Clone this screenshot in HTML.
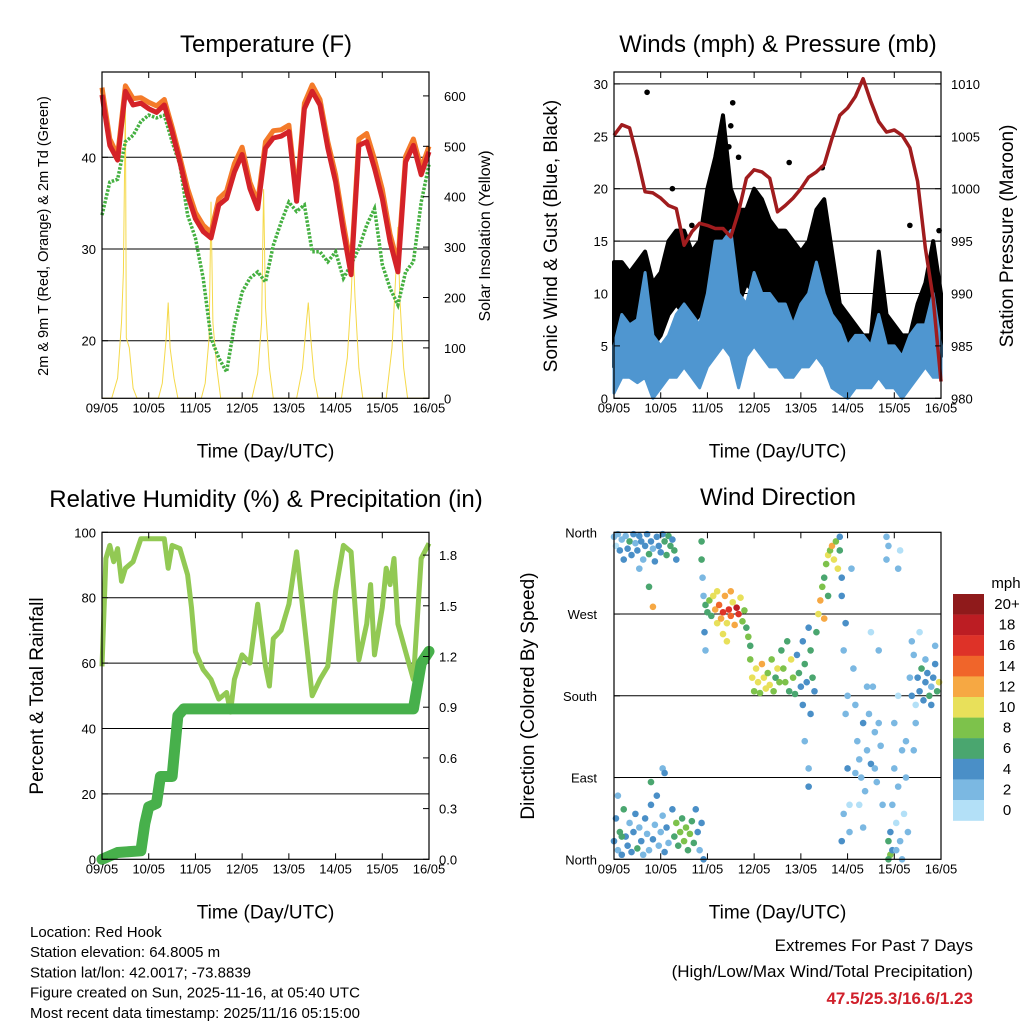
<!DOCTYPE html>
<html><head><meta charset="utf-8"><style>
html,body{margin:0;padding:0;background:#fff;}
svg{display:block;font-family:"Liberation Sans",sans-serif;}
</style></head><body>
<svg id="c" width="1024" height="1024" viewBox="0 0 1024 1024"></svg>
<script>
// ---------- DATA ----------
const hours4 = [0,4,8,12,16,20,24,28,32,36,40,44,48,52,56,60,64,68,72,76,80,84,88,92,96,100,104,108,112,116,120,124,128,132,136,140,144,148,152,156,160,164,168];
const dayLabels = ["09/05","10/05","11/05","12/05","13/05","14/05","15/05","16/05"];
const temp2m = [46.8,41.3,39.7,47.2,45.7,45.9,45.3,44.9,45.7,42.8,39.5,35.9,33.3,31.9,31.2,34.8,35.5,38.4,40.3,36.6,34.4,41,42.1,42.3,42.8,35.2,45.3,47.2,45.7,41,37.3,31.9,27.2,41.3,41.7,38.8,35.5,30.8,27.5,39.5,41.3,38.1,40.6];
const temp9m = [47.6,42,40.2,47.8,46.4,46.5,46,45.6,46.3,43.3,40,36.6,34,32.6,31.8,35.5,36.3,39.3,41.1,37.3,35.1,41.7,42.9,43,43.5,35.8,45.9,47.9,46.3,41.7,38.1,32.8,28,42,42.6,39.8,36.5,31.6,28.4,40.1,42,38.8,41.2];
const dew2m = [33.7,37.3,37.6,41.7,42.4,43.9,44.6,44.3,44.6,41.7,39.2,33.7,31.2,26.8,20.3,18.1,16.6,21.7,25.3,26.8,27.5,26.4,30.4,32.9,35.1,34.1,34.8,29.7,29.7,28.6,29.7,26.8,28.3,30.1,32.6,34.4,28.3,25.7,23.9,27.5,28.6,35.1,39.2];
const solarT = [0,5,8,10,11,12,12.5,14,16,18,29,31,33,34,35,37,39,51,53,55,56,57,59,61,77,80,82,83,84,86,88,100,103,105,106,107,109,111,123,126,128,129,130,132,134,146,149,151,152,153,155,157,168];
const solarV = [0,0,40,150,250,600,120,100,20,0,0,30,120,190,100,40,0,0,30,120,390,150,60,0,0,50,150,415,180,60,0,0,60,150,190,130,40,0,0,80,200,300,200,60,0,0,100,250,340,200,60,0,0];
const pressure = [1005.1,1006.1,1005.8,1002.9,999.7,999.6,999.1,998.4,998.1,994.6,995.9,996.7,996.5,996.2,996.2,995.4,997.8,1001,1001.8,1001.6,1001,997.8,998.4,999.1,1000,1001.1,1001.6,1002.3,1004.8,1007,1007.7,1008.8,1010.5,1008.3,1006.4,1005.4,1005.6,1005.1,1003.9,1000.7,994.3,989.5,981.6];
const windLo = [0.5,2,2,1.5,2,0,1,2,2,3,2,1,3,4,5,4,1,4,5,4,3,3,2,2,3,3,4,3,1,0.5,0,1,1,1,2,1,1,0,1,2,3,2,2];
const windHi = [5,8,7,7.5,12,6,5,6,8,9,8,7,10,15,15,16,10,9,12,10,10,9,9,7,9,10,13,10,8,7,5,6,6,5,8,5,5,4,6,7,7,10,5];
const gustLo = [3,6,5,6,6,5,6,8,9,8,7,8,10,12,14,10,9,11,10,10,9,8,8,6,6,7,9,9,6,4,3,3,3,3,5,3,3,2,2,5,7,6,4];
const gustHi = [13,13,12,13,14,11,12,15,16,16,14,15,20,23,27,20,18,18,20,19,17,16,16,15,14,15,18,19,14,9,8,7,6,6,14,8,7,6,6,9,11,15,10];
const gustOutT = [17,61,60,59,55,64,90,107,152,167,30,40];
const gustOutV = [29.2,28.2,26,24,24.5,23,22.5,22,16.5,16,20,16.5];
const rhT = [0,2,4,6,8,10,12,16,20,24,28,32,34,36,40,44,46,48,52,56,60,64,66,68,72,76,80,84,86,88,92,96,100,104,108,112,116,120,124,128,132,136,138,140,144,146,148,150,152,156,160,164,168];
const rhV = [59,92,96,91,95,85,89,91,98,98,98,98,89,96,95,87,77,63.5,58,55,49,51,45,55,62.5,60,78,59,53,67.5,70,78,94,72,50,55,59,82,96,94,61,72,84,62.5,77,89,84,92,72,63.5,55,92,96.6];
const rainT = [0,8,20,22,24,28,30,36,39,42,160,164,168];
const rainV = [0,0.04,0.05,0.21,0.31,0.33,0.49,0.49,0.85,0.89,0.89,1.16,1.23];
const wdTime = [0,1,2,3,4,5,6,7,8,9,10,11,12,13,14,15,16,17,18,19,20,21,22,23,24,25,26,27,28,29,30,31,32,13,18,20,
0,1,2,3,4,5,6,7,8,9,10,11,12,13,14,15,16,17,18,19,20,21,22,23,24,25,26,27,28,30,31,32,33,34,35,36,37,38,39,40,41,42,43,44,45,46,2,4,19,25,26,
45,45.5,46,46.5,47,45,
47,48,49,50,51,52,53,54,55,56,57,58,59,60,61,62,63,64,65,66,67,68,69,70,56,58,60,53,
70,71,72,73,74,75,76,77,78,79,80,81,82,83,84,85,
86,87,88,89,90,91,92,93,94,95,96,97,98,99,100,101,102,103,101,97,100,100,98,
104,105,106,107,108,109,110,111,112,113,114,115,116,117,116,108,110,
117,118,119,120,121,118,120,122,119,121,117,
123,124,125,126,127,128,129,130,131,132,133,134,135,136,137,124,126,128,130,132,134,136,138,
140,141,140,141,142,141,143,142,
143,144,145,146,147,148,149,150,151,144,146,148,145,150,147,146,
152,153,154,155,156,157,158,159,160,161,162,163,164,165,166,167,153,155,157,160,163,165,154];
const wdDir = [355,345,358,340,352,330,356,342,350,335,358,348,340,356,350,330,345,358,336,350,342,328,355,345,338,358,350,335,356,345,352,340,330,320,300,278,
20,45,10,30,5,55,25,15,40,8,30,50,12,35,20,5,45,28,10,60,22,38,70,15,30,48,8,35,18,55,25,40,15,30,45,20,35,10,28,42,18,55,30,10,40,0,70,25,85,100,95,
330,310,290,250,230,350,
280,272,285,268,290,275,260,280,265,272,290,260,275,268,283,258,277,270,288,262,274,255,245,235,248,240,295,295,
220,200,185,210,195,183,215,200,188,205,192,220,185,200,210,195,
230,210,195,240,185,220,200,182,225,205,190,240,215,195,255,230,200,185,160,170,100,80,130,
250,270,285,300,310,325,335,340,345,330,350,320,340,310,355,265,290,
290,230,160,100,30,50,180,320,260,60,20,
210,170,130,110,90,150,75,120,160,105,190,140,85,230,125,95,60,35,190,250,100,150,60,
355,345,330,20,5,0,10,30,
60,100,40,80,20,120,50,90,30,150,180,0,10,130,340,320,
200,180,225,170,200,185,210,175,195,205,180,190,200,215,185,195,240,150,250,220,170,235,120];
const wdSpeed = [3,1,3,4,3,5,3,4,6,4,5,3,4,5,4,3,5,4,6,4,3,4,5,4,5,4,6,6,7,6,5,6,5,3,7,12,
4,5,3,6,4,7,4,5,3,4,4,5,6,3,4,3,4,2,3,5,4,3,4,2,2,3,5,4,3,4,7,8,6,8,7,8,9,7,8,7,6,5,4,3,5,4,3,7,6,3,5,
7,3,2,4,3,6,
6,7,8,6,10,12,10,14,12,16,12,10,17,15,10,12,18,16,10,9,8,7,8,7,11,10,13,11,
8,10,9,11,10,8,12,10,11,9,10,8,9,7,10,8,
7,8,9,7,6,10,8,7,5,6,4,5,6,4,5,6,7,4,4,4,3,4,3,
6,10,12,8,7,8,10,9,12,10,8,11,6,4,4,13,6,
4,3,2,4,3,2,3,2,4,1,4,
2,3,2,3,2,4,2,3,2,4,3,2,3,2,3,2,1,2,2,1,2,3,2,
3,2,3,6,8,7,4,5,
2,2,1,2,3,2,1,2,2,2,1,2,2,2,1,2,
3,4,3,1,5,4,6,4,5,4,6,3,5,4,6,10,2,2,1,3,4,2,2];
const speedLabels = ["20+","18","16","14","12","10","8","6","4","2","0"];
const speedColors = ["#8f1a1b","#bc1d23","#de3228","#f0652a","#f6a843","#e8e05a","#7dc24b","#4aa66f","#4a8fc7","#7bb8e2","#b3e0f7"];

// ---------- HELPERS ----------
const svg = document.getElementById('c');
const NS = 'http://www.w3.org/2000/svg';
function mk(tag, attrs, parent){ const e=document.createElementNS(NS,tag); for(const k in attrs) e.setAttribute(k,attrs[k]); (parent||svg).appendChild(e); return e; }
function txt(s, x, y, size, anchor, parent, extra){ const e=mk('text',Object.assign({x:x,y:y,'font-size':size,'text-anchor':anchor||'middle',fill:'#000'},extra||{}),parent); e.textContent=s; return e; }

const L = {x0:102,x1:429}, R = {x0:614,x1:941};
const TOP = {y0:72,y1:398.3}, BOT = {y0:532.3,y1:859.3};
function xs(col){ return t => col.x0 + t*(col.x1-col.x0)/168; }

function frame(col,row,name){
  const g=mk('g',{});
  
  
  return g;
}
function border(g,col,row){
  const b=mk('rect',{x:col.x0,y:row.y0,width:col.x1-col.x0,height:row.y1-row.y0,fill:'none',stroke:'#000','stroke-width':1.2},g);
  
  
}
function xAxis(g,col,row){
  const x=xs(col);
  for(let i=0;i<dayLabels.length;i++){
    const px=x(i*24);
    mk('line',{x1:px,x2:px,y1:row.y1,y2:row.y1-6,stroke:'#000'},g);
    mk('line',{x1:px,x2:px,y1:row.y0,y2:row.y0+6,stroke:'#000'},g);
    const t=txt(dayLabels[i],px,row.y1+14,13,'middle',g);
    
    
  }
  const xl=txt('Time (Day/UTC)',(col.x0+col.x1)/2,row.y1+59,19,'middle',g);
  
  
}
function grid(g,col,ys){
  ys.forEach(y=>{ mk('line',{x1:col.x0,x2:col.x1,y1:y,y2:y,stroke:'#000','stroke-width':1},g); });
}
function poly(pts){ return pts.map(p=>p[0].toFixed(1)+','+p[1].toFixed(1)).join(' '); }

// ---------- PANEL 1: TEMPERATURE ----------
(function(){
  const g=frame(L,TOP,'temperature-panel');
  const x=xs(L);
  const yT=v=>340.7-(v-20)*9.17;
  const yS=v=>398.3-v*0.504;
  grid(g,L,[20,30,40].map(yT));
  const sol=mk('polyline',{points:poly(solarT.map((t,i)=>[x(t),yS(solarV[i])])),fill:'none',stroke:'#f5d94a','stroke-width':1},g);
  
  
  const dw=mk('polyline',{points:poly(hours4.map((t,i)=>[x(t),yT(dew2m[i])])),fill:'none',stroke:'#45b041','stroke-width':3.5,'stroke-dasharray':'2.5,1.5'},g);
  
  
  const o=mk('polyline',{points:poly(hours4.map((t,i)=>[x(t),yT(temp9m[i])])),fill:'none',stroke:'#f47b2a','stroke-width':5,'stroke-linejoin':'round'},g);
  
  
  const r=mk('polyline',{points:poly(hours4.map((t,i)=>[x(t),yT(temp2m[i])])),fill:'none',stroke:'#d42228','stroke-width':5,'stroke-linejoin':'round'},g);
  
  
  border(g,L,TOP);
  [20,30,40].forEach(v=>{ mk('line',{x1:L.x0,x2:L.x0+6,y1:yT(v),y2:yT(v),stroke:'#000'},g);
    const t=txt(String(v),L.x0-6,yT(v)+5,13,'end',g);
    
     });
  [0,100,200,300,400,500,600].forEach(v=>{ mk('line',{x1:L.x1,x2:L.x1-6,y1:yS(v),y2:yS(v),stroke:'#000'},g);
    const t=txt(String(v),L.x1+15,yS(v)+5,13,'start',g);
    
     });
  xAxis(g,L,TOP);
  const ti=txt('Temperature (F)',266,52,24,'middle',g);
  
  
  const yl=txt('2m & 9m T (Red, Orange) & 2m Td (Green)',0,0,14.5,'middle',g,{transform:'translate(48,236) rotate(-90)'});
  
  
  const y2=txt('Solar Insolation (Yellow)',0,0,16,'middle',g,{transform:'translate(490,236) rotate(-90)'});
  
  
})();

// ---------- PANEL 2: WINDS ----------
(function(){
  const g=frame(R,TOP,'winds-panel');
  const x=xs(R);
  const yW=v=>398.3-v*10.48;
  const yP=v=>398.3-(v-980)*10.48;
  grid(g,R,[5,10,15,20,25,30].map(yW));
  const gb=mk('polygon',{points:poly(hours4.map((t,i)=>[x(t),yW(gustHi[i])]).concat(hours4.map((t,i)=>[x(t),yW(gustLo[i])]).reverse())),fill:'#000',stroke:'#000','stroke-width':4,'stroke-linejoin':'round'},g);
  
  
  gustOutT.forEach((t,i)=>{
    const c=mk('circle',{cx:x(t),cy:yW(gustOutV[i]),r:2.8,fill:'#000'},g);
    
    
  });
  const wb=mk('polygon',{points:poly(hours4.map((t,i)=>[x(t),yW(windHi[i])]).concat(hours4.map((t,i)=>[x(t),yW(windLo[i])]).reverse())),fill:'#4f96d0',stroke:'#4f96d0','stroke-width':3,'stroke-linejoin':'round'},g);
  
  
  const p=mk('polyline',{points:poly(hours4.map((t,i)=>[x(t),yP(pressure[i])])),fill:'none',stroke:'#a01c1e','stroke-width':3.5,'stroke-linejoin':'round'},g);
  
  
  border(g,R,TOP);
  [0,5,10,15,20,25,30].forEach(v=>{ mk('line',{x1:R.x0,x2:R.x0+6,y1:yW(v),y2:yW(v),stroke:'#000'},g);
    const t=txt(String(v),R.x0-6,yW(v)+5,13,'end',g);
    
     });
  [980,985,990,995,1000,1005,1010].forEach(v=>{ mk('line',{x1:R.x1,x2:R.x1-6,y1:yP(v),y2:yP(v),stroke:'#000'},g);
    const t=txt(String(v),R.x1+10,yP(v)+5,13,'start',g);
    
     });
  xAxis(g,R,TOP);
  const ti=txt('Winds (mph) & Pressure (mb)',778,52,24,'middle',g);
  
  
  const yl=txt('Sonic Wind & Gust (Blue, Black)',0,0,19,'middle',g,{transform:'translate(557,236) rotate(-90)'});
  
  
  const y2=txt('Station Pressure (Maroon)',0,0,19,'middle',g,{transform:'translate(1013,236) rotate(-90)'});
  
  
})();

// ---------- PANEL 3: RH ----------
(function(){
  const g=frame(L,BOT,'humidity-panel');
  const x=xs(L);
  const yH=v=>859.3-v*3.27;
  const yR=v=>859.3-v*169;
  grid(g,L,[20,40,60,80].map(yH));
  const rh=mk('polyline',{points:poly(rhT.map((t,i)=>[x(t),yH(rhV[i])])),fill:'none',stroke:'#92c954','stroke-width':5,'stroke-linejoin':'round'},g);
  
  
  const rn=mk('polyline',{points:poly(rainT.map((t,i)=>[x(t),yR(rainV[i])])),fill:'none',stroke:'#47b04b','stroke-width':11,'stroke-linejoin':'round','stroke-linecap':'round'},g);
  
  
  border(g,L,BOT);
  [0,20,40,60,80,100].forEach(v=>{ mk('line',{x1:L.x0,x2:L.x0+6,y1:yH(v),y2:yH(v),stroke:'#000'},g);
    const t=txt(String(v),L.x0-6,yH(v)+5,13,'end',g);
    
     });
  ['0.0','0.3','0.6','0.9','1.2','1.5','1.8'].forEach(s=>{ const v=parseFloat(s); mk('line',{x1:L.x1,x2:L.x1-6,y1:yR(v),y2:yR(v),stroke:'#000'},g);
    const t=txt(s,L.x1+10,yR(v)+5,13,'start',g);
    
     });
  xAxis(g,L,BOT);
  const ti=txt('Relative Humidity (%) & Precipitation (in)',266,507,24,'middle',g);
  
  
  const yl=txt('Percent & Total Rainfall',0,0,19,'middle',g,{transform:'translate(43,696) rotate(-90)'});
  
  
})();

// ---------- PANEL 4: WIND DIRECTION ----------
(function(){
  const g=frame(R,BOT,'wind-direction-panel');
  const x=xs(R);
  const yD=v=>859.3-v*0.9083;
  grid(g,R,[90,180,270].map(yD));
  function col(s){ const idx=Math.min(10,Math.floor(s/2)); return speedColors[10-idx]; }
  wdTime.forEach((t,i)=>{
    const c=mk('circle',{cx:x(t),cy:yD(wdDir[i]),r:3.3,fill:col(wdSpeed[i])},g);
    
    
  });
  border(g,R,BOT);
  [['North',0],['East',90],['South',180],['West',270],['North',360]].forEach(a=>{
    mk('line',{x1:R.x0,x2:R.x0+6,y1:yD(a[1]),y2:yD(a[1]),stroke:'#000'},g);
    const t=txt(a[0],R.x0-17,yD(a[1])+5,13,'end',g);
    
    
  });
  xAxis(g,R,BOT);
  const ti=txt('Wind Direction',778,505,24,'middle',g);
  
  
  const yl=txt('Direction (Colored By Speed)',0,0,19,'middle',g,{transform:'translate(534,696) rotate(-90)'});
  
  
  const cb=mk('g',{},g);
  
  
  const u=txt('mph',1006,588,15,'middle',cb);
  
  
  speedColors.forEach((c,i)=>{
    const r=mk('rect',{x:953,y:594+i*20.6,width:31,height:20.8,fill:c},cb);
    
    
    const t=txt(speedLabels[i],1007,609+i*20.6,15,'middle',cb);
    
    
  });
})();

// ---------- FOOTER ----------
(function(){
  const g=mk('g',{});
  
  
  ['Location: Red Hook','Station elevation: 64.8005 m','Station lat/lon: 42.0017; -73.8839','Figure created on Sun, 2025-11-16, at 05:40 UTC','Most recent data timestamp: 2025/11/16 05:15:00'].forEach((s,i)=>{
    const t=txt(s,30,937+i*20.2,15,'start',g);
    
    
  });
  const e=mk('g',{});
  
  
  const a=txt('Extremes For Past 7 Days',973,951,17,'end',e);
  
  
  const b=txt('(High/Low/Max Wind/Total Precipitation)',973,977,17,'end',e);
  
  
  const c=txt('47.5/25.3/16.6/1.23',973,1004,17,'end',e,{fill:'#d0202b','font-weight':'bold'});
  
  
})();
</script>
</body></html>
